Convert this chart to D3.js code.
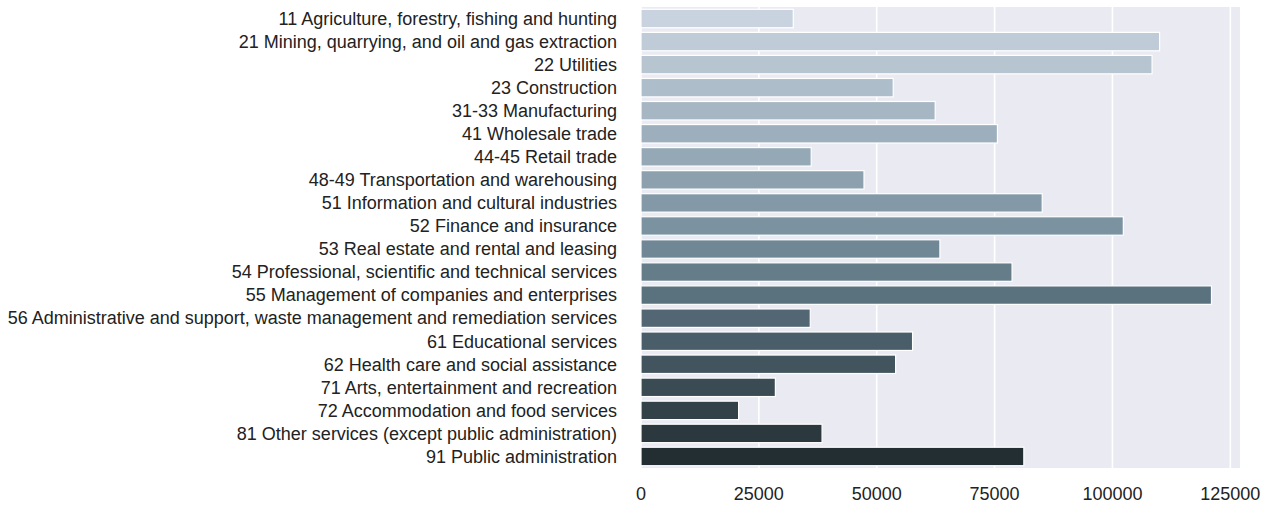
<!DOCTYPE html>
<html>
<head>
<meta charset="utf-8">
<script src="https://cdn.jsdelivr.net/npm/d3@7"></script>
<style>
  html, body { margin: 0; padding: 0; background: #ffffff; }
  svg { display: block; }
</style>
</head>
<body>
<div id="chart"></div>
<script>
const WIDTH = 1264;
const HEIGHT = 509;

const categories = [
  "11 Agriculture, forestry, fishing and hunting",
  "21 Mining, quarrying, and oil and gas extraction",
  "22 Utilities",
  "23 Construction",
  "31-33 Manufacturing",
  "41 Wholesale trade",
  "44-45 Retail trade",
  "48-49 Transportation and warehousing",
  "51 Information and cultural industries",
  "52 Finance and insurance",
  "53 Real estate and rental and leasing",
  "54 Professional, scientific and technical services",
  "55 Management of companies and enterprises",
  "56 Administrative and support, waste management and remediation services",
  "61 Educational services",
  "62 Health care and social assistance",
  "71 Arts, entertainment and recreation",
  "72 Accommodation and food services",
  "81 Other services (except public administration)",
  "91 Public administration"
];

const values = [32300, 110000, 108400, 53500, 62400, 75600, 36100, 47300, 85100, 102300,
                63400, 78700, 121000, 35900, 57600, 54000, 28500, 20700, 38400, 81200];

const xTicks = [0, 25000, 50000, 75000, 100000, 125000];

const colorStops = ["#c8d3df", "#7b92a0", "#5a717e", "#232e33"];

const margin = {top: 7, right: 24, bottom: 41, left: 641};

const svg = d3.select("#chart").append("svg")
    .attr("width", WIDTH)
    .attr("height", HEIGHT);

const xMax = d3.max(values) * 1.05;
const xScale = d3.scaleLinear()
    .domain([0, xMax])
    .range([margin.left, WIDTH - margin.right]);

const yScale = d3.scaleBand()
    .domain(categories)
    .range([margin.top, HEIGHT - margin.bottom])
    .paddingInner(0.2)
    .paddingOuter(0.1);

const n = categories.length;
const color = d3.scaleLinear()
    .domain([0, 9, 12, n - 1])
    .range(colorStops)
    .interpolate(d3.interpolateRgb);

// plot background
svg.append("rect")
    .attr("x", margin.left)
    .attr("y", margin.top)
    .attr("width", WIDTH - margin.right - margin.left)
    .attr("height", HEIGHT - margin.bottom - margin.top)
    .attr("fill", "#eaeaf2");

// gridlines
svg.append("g")
    .selectAll("line")
    .data(xTicks)
    .enter()
    .append("line")
    .attr("x1", d => xScale(d))
    .attr("x2", d => xScale(d))
    .attr("y1", margin.top)
    .attr("y2", HEIGHT - margin.bottom)
    .attr("stroke", "#ffffff")
    .attr("stroke-width", 1.6);

// bars
svg.append("g")
    .selectAll("rect")
    .data(values)
    .enter()
    .append("rect")
    .attr("x", xScale(0))
    .attr("y", (d, i) => yScale(categories[i]))
    .attr("width", d => xScale(d) - xScale(0))
    .attr("height", yScale.bandwidth())
    .attr("fill", (d, i) => color(i))
    .attr("stroke", "#ffffff")
    .attr("stroke-width", 1.2);

// y labels
svg.append("g")
    .attr("font-family", "'Liberation Sans', Arial, sans-serif")
    .attr("font-size", "18px")
    .attr("fill", "#222222")
    .attr("text-anchor", "end")
    .selectAll("text")
    .data(categories)
    .enter()
    .append("text")
    .attr("x", 617)
    .attr("y", d => yScale(d) + yScale.bandwidth() / 2)
    .attr("dy", "0.35em")
    .text(d => d);

// x labels
svg.append("g")
    .attr("font-family", "'Liberation Sans', Arial, sans-serif")
    .attr("font-size", "18px")
    .attr("fill", "#222222")
    .attr("text-anchor", "middle")
    .selectAll("text")
    .data(xTicks)
    .enter()
    .append("text")
    .attr("x", d => xScale(d))
    .attr("y", 494)
    .attr("dy", "0.35em")
    .text(d => d);
</script>
</body>
</html>
